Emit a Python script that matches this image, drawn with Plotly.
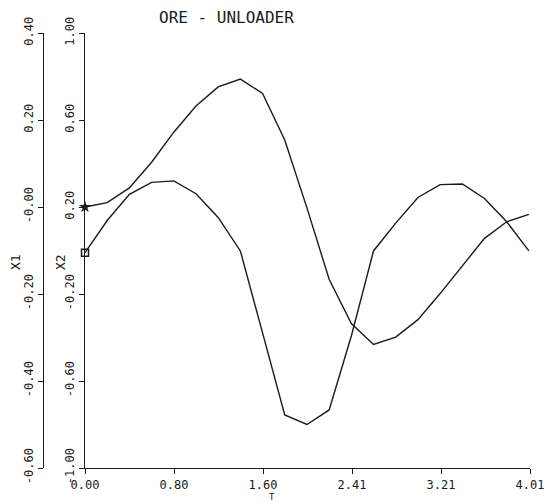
import plotly.graph_objects as go

# Time samples and the two responses
T = [0.0, 0.2, 0.4, 0.6, 0.8, 1.0, 1.2, 1.4, 1.6, 1.8, 2.0,
     2.2, 2.4, 2.6, 2.8, 3.0, 3.2, 3.4, 3.6, 3.8, 4.0]
X1 = [0.000, 0.010, 0.044, 0.103, 0.172, 0.232, 0.276, 0.294, 0.261, 0.154, -0.002,
      -0.166, -0.268, -0.316, -0.299, -0.259, -0.199, -0.135, -0.072, -0.034, -0.017]
X2 = [-0.010, 0.138, 0.258, 0.313, 0.320, 0.261, 0.152, -0.002, -0.379, -0.756, -0.800,
      -0.733, -0.393, -0.002, 0.126, 0.244, 0.303, 0.306, 0.239, 0.132, -0.002]

# Axis ticks
T_TICKS = [0.0, 0.802, 1.604, 2.406, 3.208, 4.01]
T_LABELS = ["0.00", "0.80", "1.60", "2.41", "3.21", "4.01"]
X1_TICKS = [0.4, 0.2, 0.0, -0.2, -0.4, -0.6]
X1_LABELS = ["0.40", "0.20", "-0.00", "-0.20", "-0.40", "-0.60"]
X2_TICKS = [1.0, 0.6, 0.2, -0.2, -0.6, -1.0]
X2_LABELS = ["1.00", "0.60", "0.20", "-0.20", "-0.60", "-1.00"]

FONT = "DejaVu Sans Mono"
INK = "#1a1a1a"

W, H = 554, 502
ML, MR, MT, MB = 20, 24, 33, 34
PW = W - ML - MR
PH = H - MT - MB
X2_AXIS_PX = 85
X1_AXIS_PX = 43

fig = go.Figure()

line = dict(color=INK, width=1.4)
fig.add_trace(go.Scatter(x=T, y=X1, mode="lines", line=line, yaxis="y2",
                         showlegend=False, cliponaxis=False))
fig.add_trace(go.Scatter(x=T, y=X2, mode="lines", line=line, yaxis="y",
                         showlegend=False, cliponaxis=False))
# start-point symbols
fig.add_trace(go.Scatter(x=[T[0]], y=[X1[0]], mode="markers", yaxis="y2",
                         marker=dict(symbol="star", size=9, color=INK),
                         showlegend=False, cliponaxis=False))
fig.add_trace(go.Scatter(x=[T[0]], y=[X2[0]], mode="markers", yaxis="y",
                         marker=dict(symbol="square-open", size=7, color=INK,
                                     line=dict(width=1.5, color=INK)),
                         showlegend=False, cliponaxis=False))

axis_common = dict(showgrid=False, zeroline=False, showline=True, linecolor=INK,
                   linewidth=1.2, ticks="outside", ticklen=5, tickcolor=INK,
                   automargin=False,
                   tickfont=dict(family=FONT, size=12, color=INK))


def px_to_paper(x, y_from_top):
    return (x - ML) / PW, (H - y_from_top - MB) / PH


def label(text, x, y, size, angle=0):
    px, py = px_to_paper(x, y)
    return dict(text=text, x=px, y=py, xref="paper", yref="paper",
                xanchor="center", yanchor="middle",
                textangle=angle, showarrow=False,
                font=dict(family=FONT, size=size, color=INK))


fig.update_layout(
    width=W, height=H,
    margin=dict(l=ML, r=MR, t=MT, b=MB, autoexpand=False),
    paper_bgcolor="white", plot_bgcolor="white",
    xaxis=dict(range=[0, 4.01], domain=[(X2_AXIS_PX - ML) / PW, 1],
               tickvals=T_TICKS, ticktext=T_LABELS, ticklabelstandoff=0,
               **axis_common),
    yaxis=dict(range=[-1, 1], tickvals=X2_TICKS, ticktext=X2_LABELS,
               tickangle=-90, anchor="x", **axis_common),
    yaxis2=dict(range=[-0.6, 0.4], tickvals=X1_TICKS, ticktext=X1_LABELS,
                tickangle=-90, anchor="free", overlaying="y",
                position=(X1_AXIS_PX - ML) / PW, **axis_common),
    annotations=[
        label("ORE - UNLOADER", 226, 18, 16),
        label("X1", 15, 262, 13, -90),
        label("X2", 60, 262, 13, -90),
        label("T", 272, 497, 9),
    ],
)

fig.write_html("out.html")
